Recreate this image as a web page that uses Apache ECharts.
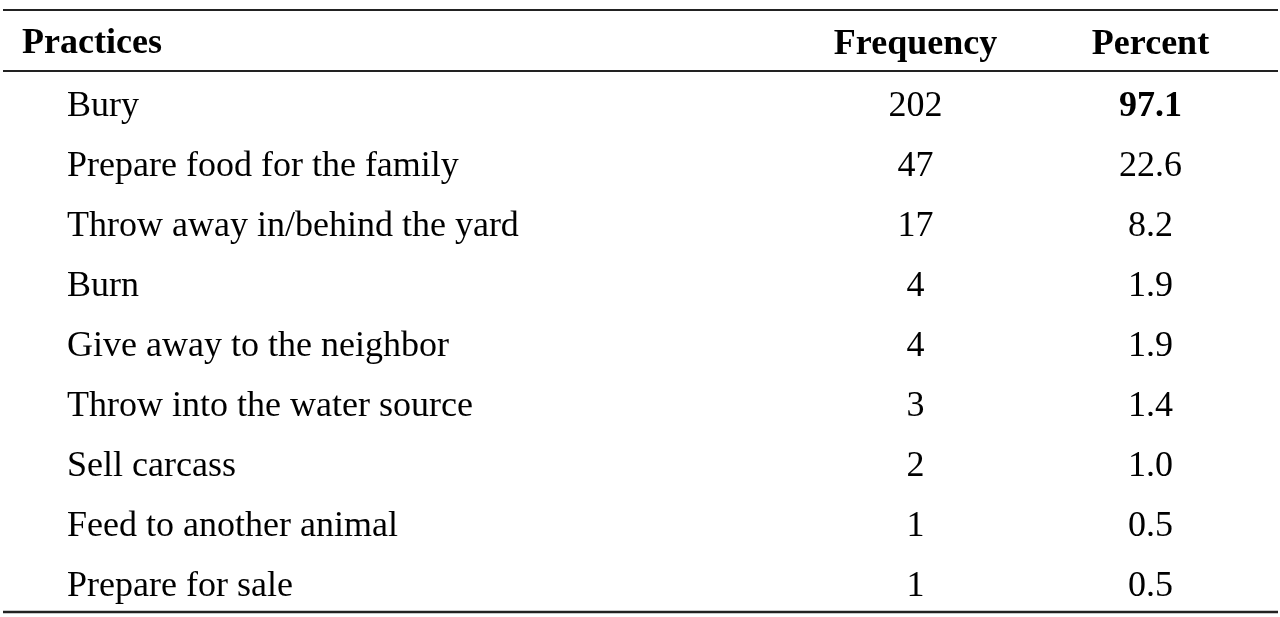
<!DOCTYPE html>
<html>
<head>
<meta charset="utf-8">
<script src="https://cdn.jsdelivr.net/npm/echarts@6/dist/echarts.min.js"></script>
<style>
  html, body { margin: 0; padding: 0; background: #fff; }
  #main { width: 1280px; height: 617px; }
</style>
</head>
<body>
<div id="main"></div>
<script>
// 表格数据
var practices = [
  'Bury',
  'Prepare food for the family',
  'Throw away in/behind the yard',
  'Burn',
  'Give away to the neighbor',
  'Throw into the water source',
  'Sell carcass',
  'Feed to another animal',
  'Prepare for sale'
];
var frequencies = [202, 47, 17, 4, 4, 3, 2, 1, 1];
var percents = [97.1, 22.6, 8.2, 1.9, 1.9, 1.4, 1.0, 0.5, 0.5];
var columns = ['Frequency', 'Percent'];

var FONT = '"Liberation Serif", "Times New Roman", serif';
var SIZE = 36;

// 最大值加粗
var boldIndex = percents.indexOf(Math.max.apply(null, percents));

var chart = echarts.init(document.getElementById('main'));

var option = {
  animation: false,
  title: {
    text: 'Practices',
    left: 22,
    top: 24,
    padding: 0,
    textStyle: {
      fontFamily: FONT,
      fontSize: SIZE,
      fontWeight: 'bold',
      color: '#000',
      lineHeight: 40
    }
  },
  grid: {
    left: 798,
    right: 12,
    top: 77,
    bottom: 0
  },
  xAxis: {
    type: 'category',
    position: 'top',
    data: columns,
    axisLine: { show: false },
    axisTick: { show: false },
    splitLine: { show: false },
    axisLabel: {
      margin: 14,
      fontFamily: FONT,
      fontSize: SIZE,
      fontWeight: 'bold',
      color: '#000'
    }
  },
  yAxis: {
    type: 'category',
    inverse: true,
    data: practices,
    axisLine: { show: false },
    axisTick: { show: false },
    splitLine: { show: false },
    axisLabel: {
      align: 'left',
      margin: 731,
      fontFamily: FONT,
      fontSize: SIZE,
      color: '#000'
    }
  },
  series: [
    {
      // 频数列
      type: 'scatter',
      symbolSize: 0,
      itemStyle: { opacity: 1 },
      data: practices.map(function (p, i) {
        return [columns[0], p, frequencies[i]];
      }),
      label: {
        show: true,
        position: 'inside',
        fontFamily: FONT,
        fontSize: SIZE,
        color: '#000',
        formatter: function (params) { return String(params.value[2]); }
      }
    },
    {
      // 百分比列
      type: 'scatter',
      symbolSize: 0,
      itemStyle: { opacity: 1 },
      data: practices.map(function (p, i) {
        var item = { value: [columns[1], p, percents[i]] };
        if (i === boldIndex) {
          item.label = { fontWeight: 'bold' };
        }
        return item;
      }),
      label: {
        show: true,
        position: 'inside',
        fontFamily: FONT,
        fontSize: SIZE,
        color: '#000',
        formatter: function (params) { return params.value[2].toFixed(1); }
      }
    }
  ],
  // 表格横线
  graphic: [
    { type: 'line', shape: { x1: 3, y1: 10, x2: 1278, y2: 10 }, style: { stroke: '#222', lineWidth: 2 } },
    { type: 'line', shape: { x1: 3, y1: 71, x2: 1278, y2: 71 }, style: { stroke: '#222', lineWidth: 2 } },
    { type: 'line', shape: { x1: 3, y1: 612, x2: 1278, y2: 612 }, style: { stroke: '#222', lineWidth: 2.5 } }
  ]
};

chart.setOption(option);
</script>
</body>
</html>
